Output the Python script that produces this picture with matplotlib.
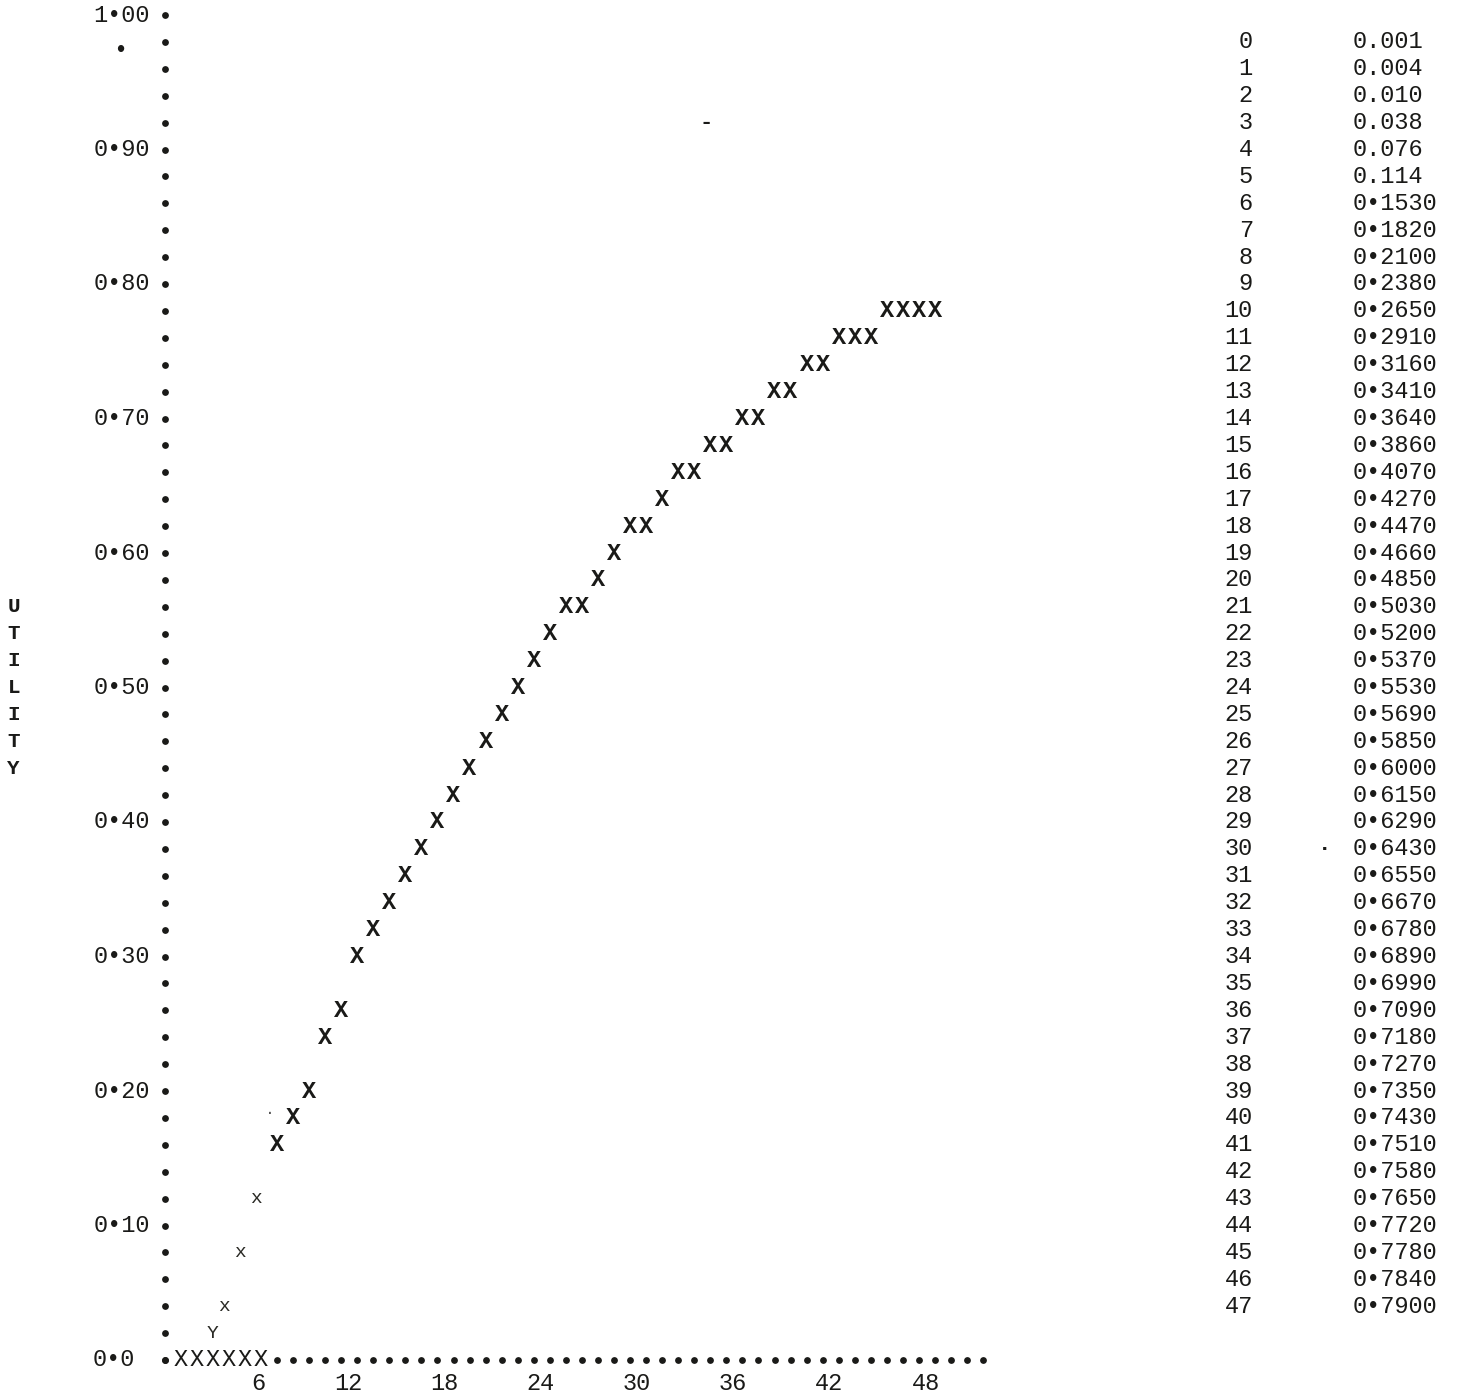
import matplotlib
matplotlib.use("Agg")
import matplotlib.pyplot as plt

# ---------------- data ----------------
# printed table (index, utility)
table_index = list(range(48))
table_utility = [0.001, 0.004, 0.010, 0.038, 0.076, 0.114,
                 0.1530, 0.1820, 0.2100, 0.2380, 0.2650, 0.2910, 0.3160, 0.3410,
                 0.3640, 0.3860, 0.4070, 0.4270, 0.4470, 0.4660, 0.4850, 0.5030,
                 0.5200, 0.5370, 0.5530, 0.5690, 0.5850, 0.6000, 0.6150, 0.6290,
                 0.6430, 0.6550, 0.6670, 0.6780, 0.6890, 0.6990, 0.7090, 0.7180,
                 0.7270, 0.7350, 0.7430, 0.7510, 0.7580, 0.7650, 0.7720, 0.7780,
                 0.7840, 0.7900]

# printer-plot points (column, row value)
main_x = [7, 8, 9, 10, 11, 12, 13, 14, 15, 16, 17, 18, 19, 20, 21, 22, 23, 24,
          25, 26, 27, 28, 29, 30, 31, 32, 33, 34, 35, 36, 37, 38, 39, 40, 41,
          42, 43, 44, 45, 46, 47, 48]
main_y = [0.16, 0.18, 0.20, 0.24, 0.26, 0.30, 0.32, 0.34, 0.36, 0.38, 0.40, 0.42,
          0.44, 0.46, 0.48, 0.50, 0.52, 0.54, 0.56, 0.56, 0.58, 0.60, 0.62, 0.62,
          0.64, 0.66, 0.66, 0.68, 0.68, 0.70, 0.70, 0.72, 0.72, 0.74, 0.74,
          0.76, 0.76, 0.76, 0.78, 0.78, 0.78, 0.78]
base_x = [1, 2, 3, 4, 5, 6]
base_y = [0.0, 0.0, 0.0, 0.0, 0.0, 0.0]
small_x = [4, 5, 6]
small_y = [0.04, 0.08, 0.12]
odd_x = [3]
odd_y = [0.02]

x_ticks = [6, 12, 18, 24, 30, 36, 42, 48]
y_ticks = [1.00, 0.90, 0.80, 0.70, 0.60, 0.50, 0.40, 0.30, 0.20, 0.10, 0.0]
y_tick_labels = ["1•00", "0•90", "0•80", "0•70", "0•60", "0•50", "0•40",
                 "0•30", "0•20", "0•10", "0•0"]
y_rows = [i / 50 for i in range(51)]          # axis dot rows (step 0.02)
x_cols = [0] + list(range(7, 52))             # axis dot columns
ylabel_letters = list("UTILITY")

# ---------------- figure ----------------
W, H = 1471, 1394
fig = plt.figure(figsize=(W / 100, H / 100), dpi=100)
fig.patch.set_facecolor("white")
colw = 16.05
left_px, bottom_px, top_px = 164.6, 1360.0, 15.0
ax = fig.add_axes([left_px / W, (H - bottom_px) / H,
                   52 * colw / W, (bottom_px - top_px) / H])
ax.set_xlim(0, 52)
ax.set_ylim(0, 1.0)
ax.axis("off")

FONT = "Liberation Mono"
INK = "#1a1a18"
fs = 17

# axes made of dots
ax.scatter([0] * len(y_rows), y_rows, s=24, color=INK, linewidths=0,
           clip_on=False, zorder=3)
ax.scatter(x_cols, [0] * len(x_cols), s=24, color=INK, linewidths=0,
           clip_on=False, zorder=3)

# y tick labels
for v, lab in zip(y_ticks, y_tick_labels):
    xr = -0.9 if v > 0 else -1.85
    ax.text(xr, v, lab, ha="right", va="center", fontsize=fs, family=FONT,
            color=INK, clip_on=False)

# x tick labels
for v in x_ticks:
    ax.text(v + 0.3, -0.0175, str(v), ha="right", va="center", fontsize=fs,
            family=FONT, color=INK, clip_on=False)

# vertical axis title
for k, ch in enumerate(ylabel_letters):
    ax.text(-9.4, 0.56 - 0.02 * k, ch, ha="center", va="center", fontsize=15,
            family=FONT, weight="bold", color=INK, clip_on=False)

# plotted points
for x, y in zip(main_x, main_y):
    ax.text(x, y, "X", ha="center", va="center", fontsize=fs, family=FONT,
            weight="bold", color=INK, clip_on=False)
for x, y in zip(base_x, base_y):
    ax.text(x, y, "X", ha="center", va="center", fontsize=fs, family=FONT,
            color=INK, clip_on=False)
for x, y in zip(small_x, small_y):
    ax.text(x - 0.3, y, "x", ha="center", va="center", fontsize=14, family=FONT,
            color="#2a2a25", clip_on=False)
for x, y in zip(odd_x, odd_y):
    ax.text(x, y, "Y", ha="center", va="center", fontsize=14, family=FONT,
            color="#2a2a25", clip_on=False)

# printed table on the right
for i, u in zip(table_index, table_utility):
    yy = 0.98 - 0.02 * i
    ax.text(67.8, yy, str(i), ha="right", va="center", fontsize=fs,
            family=FONT, color=INK, clip_on=False)
    if i < 6:
        s = f"{u:.3f}"
    else:
        s = f"{u:.4f}".replace(".", "•")
    ax.text(74.0, yy, s, ha="left", va="center", fontsize=fs,
            family=FONT, color=INK, clip_on=False)

# stray print specks
fig.text(120 / W, 1 - 50 / H, "•", ha="center", va="center", fontsize=17,
         family=FONT, color=INK)
fig.text(706 / W, 1 - 122 / H, "-", ha="center", va="center", fontsize=16,
         family=FONT, weight="bold", color=INK)
fig.text(1325 / W, 1 - 850 / H, "·", ha="center", va="center", fontsize=16,
         family=FONT, weight="bold", color=INK)
fig.text(270 / W, 1 - 1112 / H, "·", ha="center", va="center", fontsize=12,
         family=FONT, color="#555555")

fig.savefig("out.png", dpi=100, facecolor="white")
